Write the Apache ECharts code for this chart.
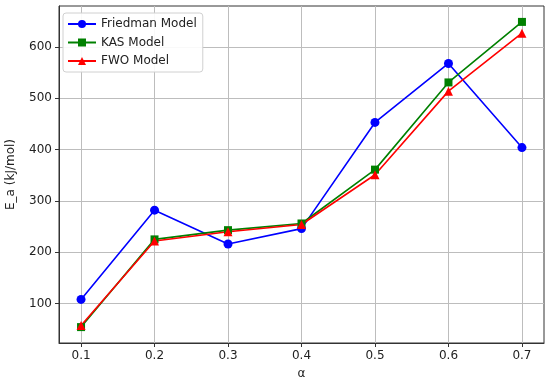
<!DOCTYPE html>
<html><head><meta charset="utf-8">
<script src="https://cdn.jsdelivr.net/npm/echarts@6/dist/echarts.min.js"></script>
<style>html,body{margin:0;padding:0;background:#fff}#c{width:550px;height:386px}</style>
</head><body><div id="c"></div>
<script>
const alphas = [0.1, 0.2, 0.3, 0.4, 0.5, 0.6, 0.7];
const friedman = [108, 282, 216, 246, 453, 568, 404];
const kas = [54, 225, 243, 256, 361, 531, 649];
const fwo = [57, 222, 240, 254, 351, 514, 627];
const xTicks = [0.1, 0.2, 0.3, 0.4, 0.5, 0.6, 0.7];
const yTicks = [100, 200, 300, 400, 500, 600];

const font = 'DejaVu Sans';
function mk(name, data, color, symbol, size) {
  return {
    name, type: 'line', data: alphas.map((a, i) => [a, data[i]]),
    symbol, symbolSize: size, showSymbol: true,
    lineStyle: { color, width: 1.6 }, itemStyle: { color },
    emphasis: { disabled: true }, animation: false
  };
}
const chart = echarts.init(document.getElementById('c'));
chart.setOption({
  animation: false,
  textStyle: { fontFamily: font },
  grid: { left: 59, right: 6, top: 6, bottom: 43, show: true, borderColor: '#333', borderWidth: 1, containLabel: false, outerBoundsMode: 'none' },
  legend: {
    orient: 'vertical', left: 63, top: 13,
    backgroundColor: 'rgba(255,255,255,0.9)', borderColor: '#d0d0d0', borderWidth: 1, borderRadius: 3,
    padding: [5, 6, 5, 4], itemGap: 6.5, itemWidth: 28, itemHeight: 10,
    textStyle: { fontFamily: font, fontSize: 12, color: '#222' },
    data: ['Friedman Model', 'KAS Model', 'FWO Model']
  },
  xAxis: {
    type: 'value', min: 0.07, max: 0.73,
    name: 'α', nameLocation: 'middle', nameGap: 25,
    nameTextStyle: { fontFamily: font, fontSize: 12, color: '#222' },
    axisLine: { show: true, lineStyle: { color: '#333' } },
    axisTick: { show: true, length: 4, lineStyle: { color: '#333' }, customValues: xTicks },
    axisLabel: { fontFamily: font, fontSize: 12, color: '#222', margin: 7, customValues: xTicks, formatter: v => v.toFixed(1) },
    splitLine: { show: true, lineStyle: { color: '#bdbdbd', width: 1 } }
  },
  yAxis: {
    type: 'value', min: 23, max: 680,
    name: 'E_a (kJ/mol)', nameLocation: 'middle', nameGap: 42,
    nameTextStyle: { fontFamily: font, fontSize: 12, color: '#222' },
    axisLine: { show: true, lineStyle: { color: '#333' } },
    axisTick: { show: true, length: 4, lineStyle: { color: '#333' }, customValues: yTicks },
    axisLabel: { fontFamily: font, fontSize: 12, color: '#222', margin: 7, customValues: yTicks },
    splitLine: { show: true, lineStyle: { color: '#bdbdbd', width: 1 } }
  },
  series: [
    mk('Friedman Model', friedman, '#0000ff', 'circle', 9),
    mk('KAS Model', kas, '#008000', 'rect', 8),
    mk('FWO Model', fwo, '#ff0000', 'triangle', 9)
  ]
});
</script></body></html>
